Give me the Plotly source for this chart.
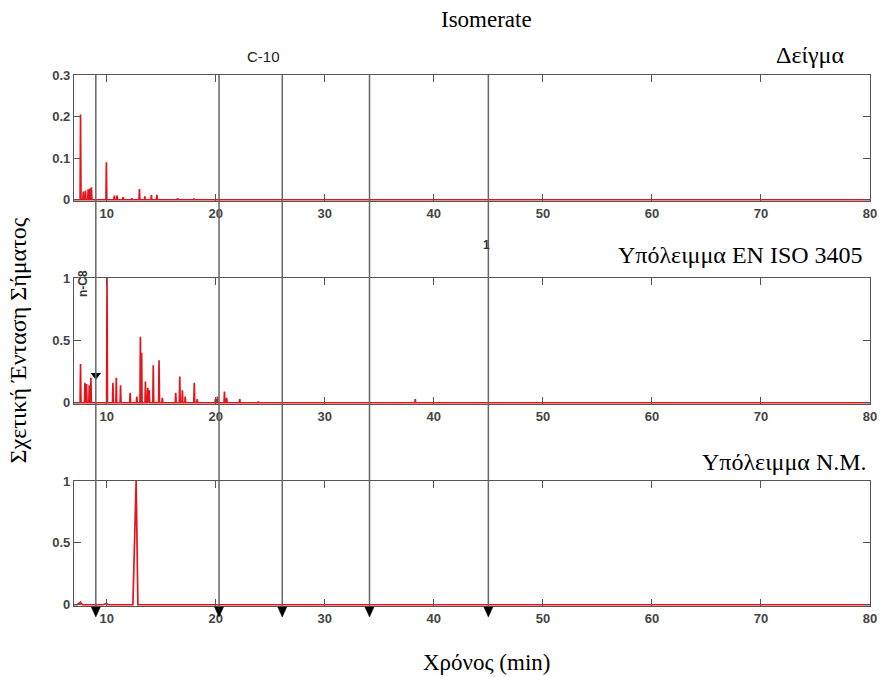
import plotly.graph_objects as go

# Retention-time axis
X_MIN, X_MAX = 7.0, 80.0
x_ticks = [10, 20, 30, 40, 50, 60, 70, 80]

# Sample (Δείγμα): peak apex times (min) and relative intensities
sample_t = [7.6, 7.85, 8.05, 8.3, 8.45, 8.6, 9.97, 10.7, 10.95, 11.5, 12.3,
            13.0, 13.5, 14.1, 14.6, 16.5, 18.0]
sample_h = [0.205, 0.02, 0.022, 0.025, 0.027, 0.03, 0.09, 0.01, 0.01, 0.006,
            0.004, 0.026, 0.008, 0.011, 0.012, 0.004, 0.003]

# Residue EN ISO 3405
iso_t = [7.6, 8.0, 8.15, 8.4, 8.55, 10.03, 10.57, 10.88, 11.27, 12.15, 12.76,
         13.09, 13.2, 13.55, 13.76, 13.9, 14.27, 14.8, 15.1, 16.33, 16.7,
         16.94, 17.2, 18.03, 18.3, 19.97, 20.15, 20.8, 21.0, 22.2, 23.9, 38.3]
iso_h = [0.31, 0.16, 0.15, 0.14, 0.20, 1.0, 0.16, 0.20, 0.14, 0.08, 0.05,
         0.53, 0.40, 0.17, 0.12, 0.10, 0.30, 0.34, 0.04, 0.08, 0.21,
         0.10, 0.05, 0.16, 0.03, 0.03, 0.05, 0.09, 0.04, 0.03, 0.01, 0.03]

# Residue Ν.Μ.
nm_t = [7.6, 9.97, 12.7]
nm_h = [0.02, 0.01, 1.0]

# Marker compounds (vertical reference lines)
marker_t = [9.0, 20.3, 26.1, 34.1, 45.0]

RED = "#e5141b"
AXIS = "#555555"
SERIF = "Liberation Serif, Times New Roman, serif"
TICKFONT = dict(family="Liberation Sans Narrow, Arial Narrow, Arial", size=13,
                color="#444444", weight="bold")


def peak_line(times, heights, wl, wr):
    xs, ys = [X_MIN], [0.0]
    for t, h in sorted(zip(times, heights)):
        xs += [t - wl, t, t + wr]
        ys += [0.0, h, 0.0]
    xs.append(X_MAX)
    ys.append(0.0)
    return xs, ys


fig = go.Figure()

for (times, heights, wl, wr, xa, ya) in [
    (sample_t, sample_h, 0.04, 0.04, "x", "y"),
    (iso_t, iso_h, 0.04, 0.04, "x2", "y2"),
    (nm_t, nm_h, 0.3, 0.16, "x3", "y3"),
]:
    xs, ys = peak_line(times, heights, wl, wr)
    fig.add_trace(go.Scatter(x=xs, y=ys, mode="lines", xaxis=xa, yaxis=ya,
                             line=dict(color=RED, width=1.7),
                             showlegend=False, hoverinfo="skip"))

# n-C8 arrowhead in the middle panel
fig.add_trace(go.Scatter(x=[marker_t[0]], y=[0.22], mode="markers",
                         xaxis="x2", yaxis="y2", cliponaxis=False,
                         marker=dict(symbol="triangle-down", size=9, color="black"),
                         showlegend=False, hoverinfo="skip"))

# Vertical marker lines spanning all panels
for t in marker_t:
    fig.add_shape(type="line", xref="x", yref="paper", x0=t, x1=t,
                  y0=-0.011, y1=1.0, line=dict(color="#666666", width=1.5),
                  layer="above")
    # arrowhead just below the bottom panel's time axis
    fig.add_shape(type="path", xref="x3", yref="paper",
                  xsizemode="pixel", ysizemode="pixel", xanchor=t, yanchor=0,
                  path="M -4.5 -1 L 4.5 -1 L 0 -11 Z",
                  fillcolor="black", line=dict(color="black", width=0.5),
                  layer="above")

xcommon = dict(range=[X_MIN, X_MAX], tickvals=x_ticks, ticks="inside", ticklen=7,
               tickcolor=AXIS, showline=True, linecolor=AXIS, linewidth=1.3,
               mirror="ticks", showgrid=False, zeroline=False, tickfont=TICKFONT,
               domain=[0, 1])
ycommon = dict(ticks="inside", ticklen=7, tickcolor=AXIS, showline=True,
               linecolor=AXIS, linewidth=1.3, mirror="ticks", showgrid=False,
               zeroline=False, tickfont=TICKFONT)

fig.update_layout(
    width=885, height=677,
    margin=dict(l=74, r=8, t=75, b=71),
    paper_bgcolor="white", plot_bgcolor="white",
    xaxis=dict(xcommon, anchor="y"),
    xaxis2=dict(xcommon, anchor="y2"),
    xaxis3=dict(xcommon, anchor="y3"),
    yaxis=dict(ycommon, domain=[0.7627, 1.0], range=[-0.003, 0.3],
               tickvals=[0, 0.1, 0.2, 0.3], ticktext=["0", "0.1", "0.2", "0.3"],
               anchor="x"),
    yaxis2=dict(ycommon, domain=[0.3804, 0.6177], range=[-0.01, 1.0],
                tickvals=[0, 0.5, 1], ticktext=["0", "0.5", "1"], anchor="x2"),
    yaxis3=dict(ycommon, domain=[0.0, 0.2354], range=[-0.01, 1.0],
                tickvals=[0, 0.5, 1], ticktext=["0", "0.5", "1"], anchor="x3"),
)

annotations = [
    dict(text="Isomerate", x=0.518, y=1.1036, xanchor="center", yanchor="middle",
         font=dict(family=SERIF, size=23, color="black")),
    dict(text="C-10", x=0.238, y=1.034, xanchor="center", yanchor="middle",
         font=dict(family="Arial", size=15, color="#222222")),
    dict(text="Δείγμα", x=0.970, y=1.0377, xanchor="right", yanchor="middle",
         font=dict(family=SERIF, size=24, color="black")),
    dict(text="Υπόλειμμα EN ISO 3405", x=0.9938, y=0.661, xanchor="right",
         yanchor="middle", font=dict(family=SERIF, size=24, color="black")),
    dict(text="Υπόλειμμα Ν.Μ.", x=0.9988, y=0.2712, xanchor="right",
         yanchor="middle", font=dict(family=SERIF, size=24, color="black")),
    dict(text="Χρόνος (min)", x=0.518, y=-0.1055, xanchor="center",
         yanchor="middle", font=dict(family=SERIF, size=23, color="black")),
    dict(text="Σχετική Ένταση Σήματος", x=-0.071, y=0.501, textangle=-90,
         xanchor="center", yanchor="middle",
         font=dict(family=SERIF, size=24, color="black")),
    dict(text="n-C8", x=0.0112, y=0.608, textangle=-90, xanchor="center",
         yanchor="middle", font=dict(family="Arial", size=12, color="#333333",
                                     weight="bold")),
    dict(text="1", x=0.518, y=0.680, xanchor="center", yanchor="middle",
         font=dict(family="Arial", size=12, color="#333333", weight="bold")),
]
for a in annotations:
    a.update(xref="paper", yref="paper", showarrow=False)
fig.update_layout(annotations=annotations)

fig.write_html("out.html")
